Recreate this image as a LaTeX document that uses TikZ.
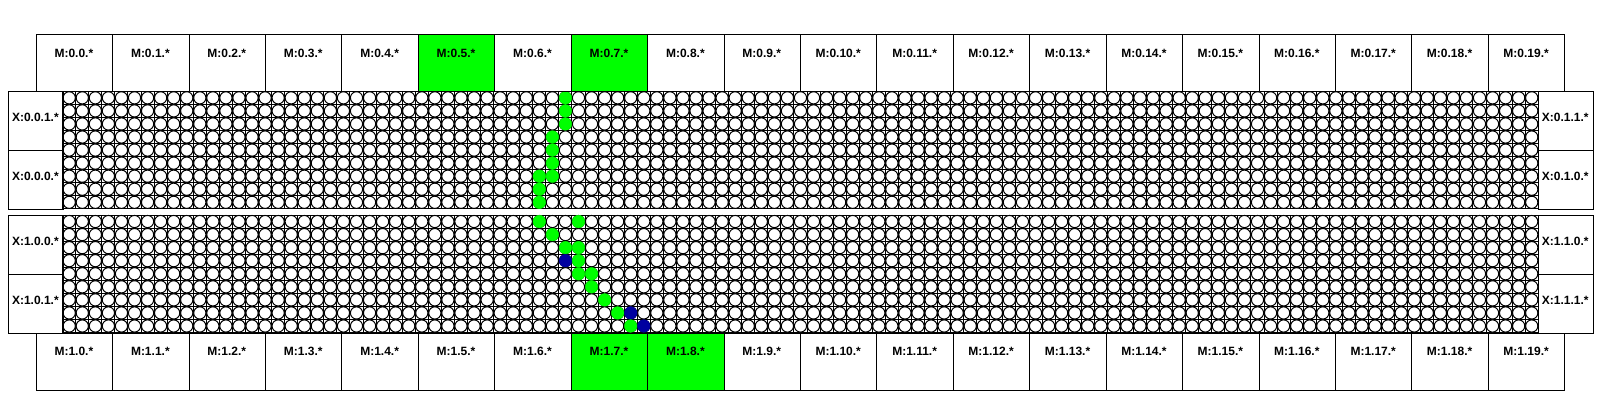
\documentclass[tikz,border=0pt]{standalone}
\usepackage{fontspec}
\setmainfont{Liberation Sans}
\definecolor{lgreen}{RGB}{0,255,0}
\definecolor{dblue}{RGB}{0,0,160}
\begin{document}
\begin{tikzpicture}[x=1pt,y=-1pt,line width=0.8pt,
  lbl/.style={font=\bfseries\fontsize{12}{14}\selectfont,inner sep=0pt},
  mcell/.style={draw,line width=1pt,minimum width=76.43pt,minimum height=57pt,anchor=north west,inner sep=0pt},
  xbox/.style={draw,line width=1pt,minimum width=54.7pt,minimum height=58.7pt,anchor=north west,inner sep=0pt},
  cell/.style={draw=black,fill=white,line width=1pt},
  dot/.style={line width=0.4pt},
  gline/.style={line width=1pt}]
\useasboundingbox (0,0) rectangle (1600,400);
\def\gx{62.7}
\def\gs{13.058}
% grid blocks
\foreach \b/\t in {0/91.3,1/215.0}{
  \foreach \k in {0,...,113}{
    \draw[gline] ({\gx+\k*\gs},\t) -- ({\gx+\k*\gs},{\t+9*\gs});
  }
  \foreach \r in {0,...,9}{
    \draw[gline] (\gx,{\t+\r*\gs}) -- ({\gx+113*\gs},{\t+\r*\gs});
  }
  \foreach \c in {0,...,112}{
    \foreach \r in {0,...,8}{
      \draw[cell] ({\gx+(\c+0.5)*\gs},{\t+(\r+0.5)*\gs}) circle[radius=6.1];
    }
  }
}
% coloured cells
\foreach \c/\r/\t/\col in {38/0/91.3/lgreen,38/1/91.3/lgreen,38/2/91.3/lgreen,37/3/91.3/lgreen,37/4/91.3/lgreen,37/5/91.3/lgreen,36/6/91.3/lgreen,37/6/91.3/lgreen,36/7/91.3/lgreen,36/8/91.3/lgreen,
  36/0/215.0/lgreen,39/0/215.0/lgreen,37/1/215.0/lgreen,38/2/215.0/lgreen,39/2/215.0/lgreen,38/3/215.0/dblue,39/3/215.0/lgreen,39/4/215.0/lgreen,40/4/215.0/lgreen,40/5/215.0/lgreen,41/6/215.0/lgreen,42/7/215.0/lgreen,43/7/215.0/dblue,43/8/215.0/lgreen,44/8/215.0/dblue}{
  \filldraw[dot,draw=\col,fill=\col] ({\gx+(\c+0.5)*\gs},{\t+(\r+0.5)*\gs}) circle[radius=6.3];
}
% M rows
\foreach \i in {0,...,19}{
  \def\fa{white}\def\fb{white}
  \ifnum\i=5 \def\fa{lgreen}\fi
  \ifnum\i=7 \def\fa{lgreen}\def\fb{lgreen}\fi
  \ifnum\i=8 \def\fb{lgreen}\fi
  \node[mcell,fill=\fa] (mt\i) at ({35.7+76.43*\i},34.3) {};
  \node[lbl] (mtl\i) at ({35.7+76.43*(\i+0.5)},53) {M:0.\i.*};
  \node[mcell,fill=\fb] (mb\i) at ({35.7+76.43*\i},332.5) {};
  \node[lbl] (mbl\i) at ({35.7+76.43*(\i+0.5)},351.5) {M:1.\i.*};
}
% X boxes
\foreach \n/\y/\txt in {a/91.3/X:0.0.1.*,b/150.0/X:0.0.0.*,c/215.0/X:1.0.0.*,d/273.8/X:1.0.1.*}{
  \node[xbox] (xl\n) at (8,\y) {};
  \node[lbl] (xlt\n) at (35.35,{\y+26.5}) {\txt};
}
\foreach \n/\y/\txt in {a/91.3/X:0.1.1.*,b/150.0/X:0.1.0.*,c/215.0/X:1.1.0.*,d/273.8/X:1.1.1.*}{
  \node[xbox] (xr\n) at (1538.3,\y) {};
  \node[lbl] (xrt\n) at (1565.3,{\y+26.5}) {\txt};
}
\end{tikzpicture}
\end{document}
